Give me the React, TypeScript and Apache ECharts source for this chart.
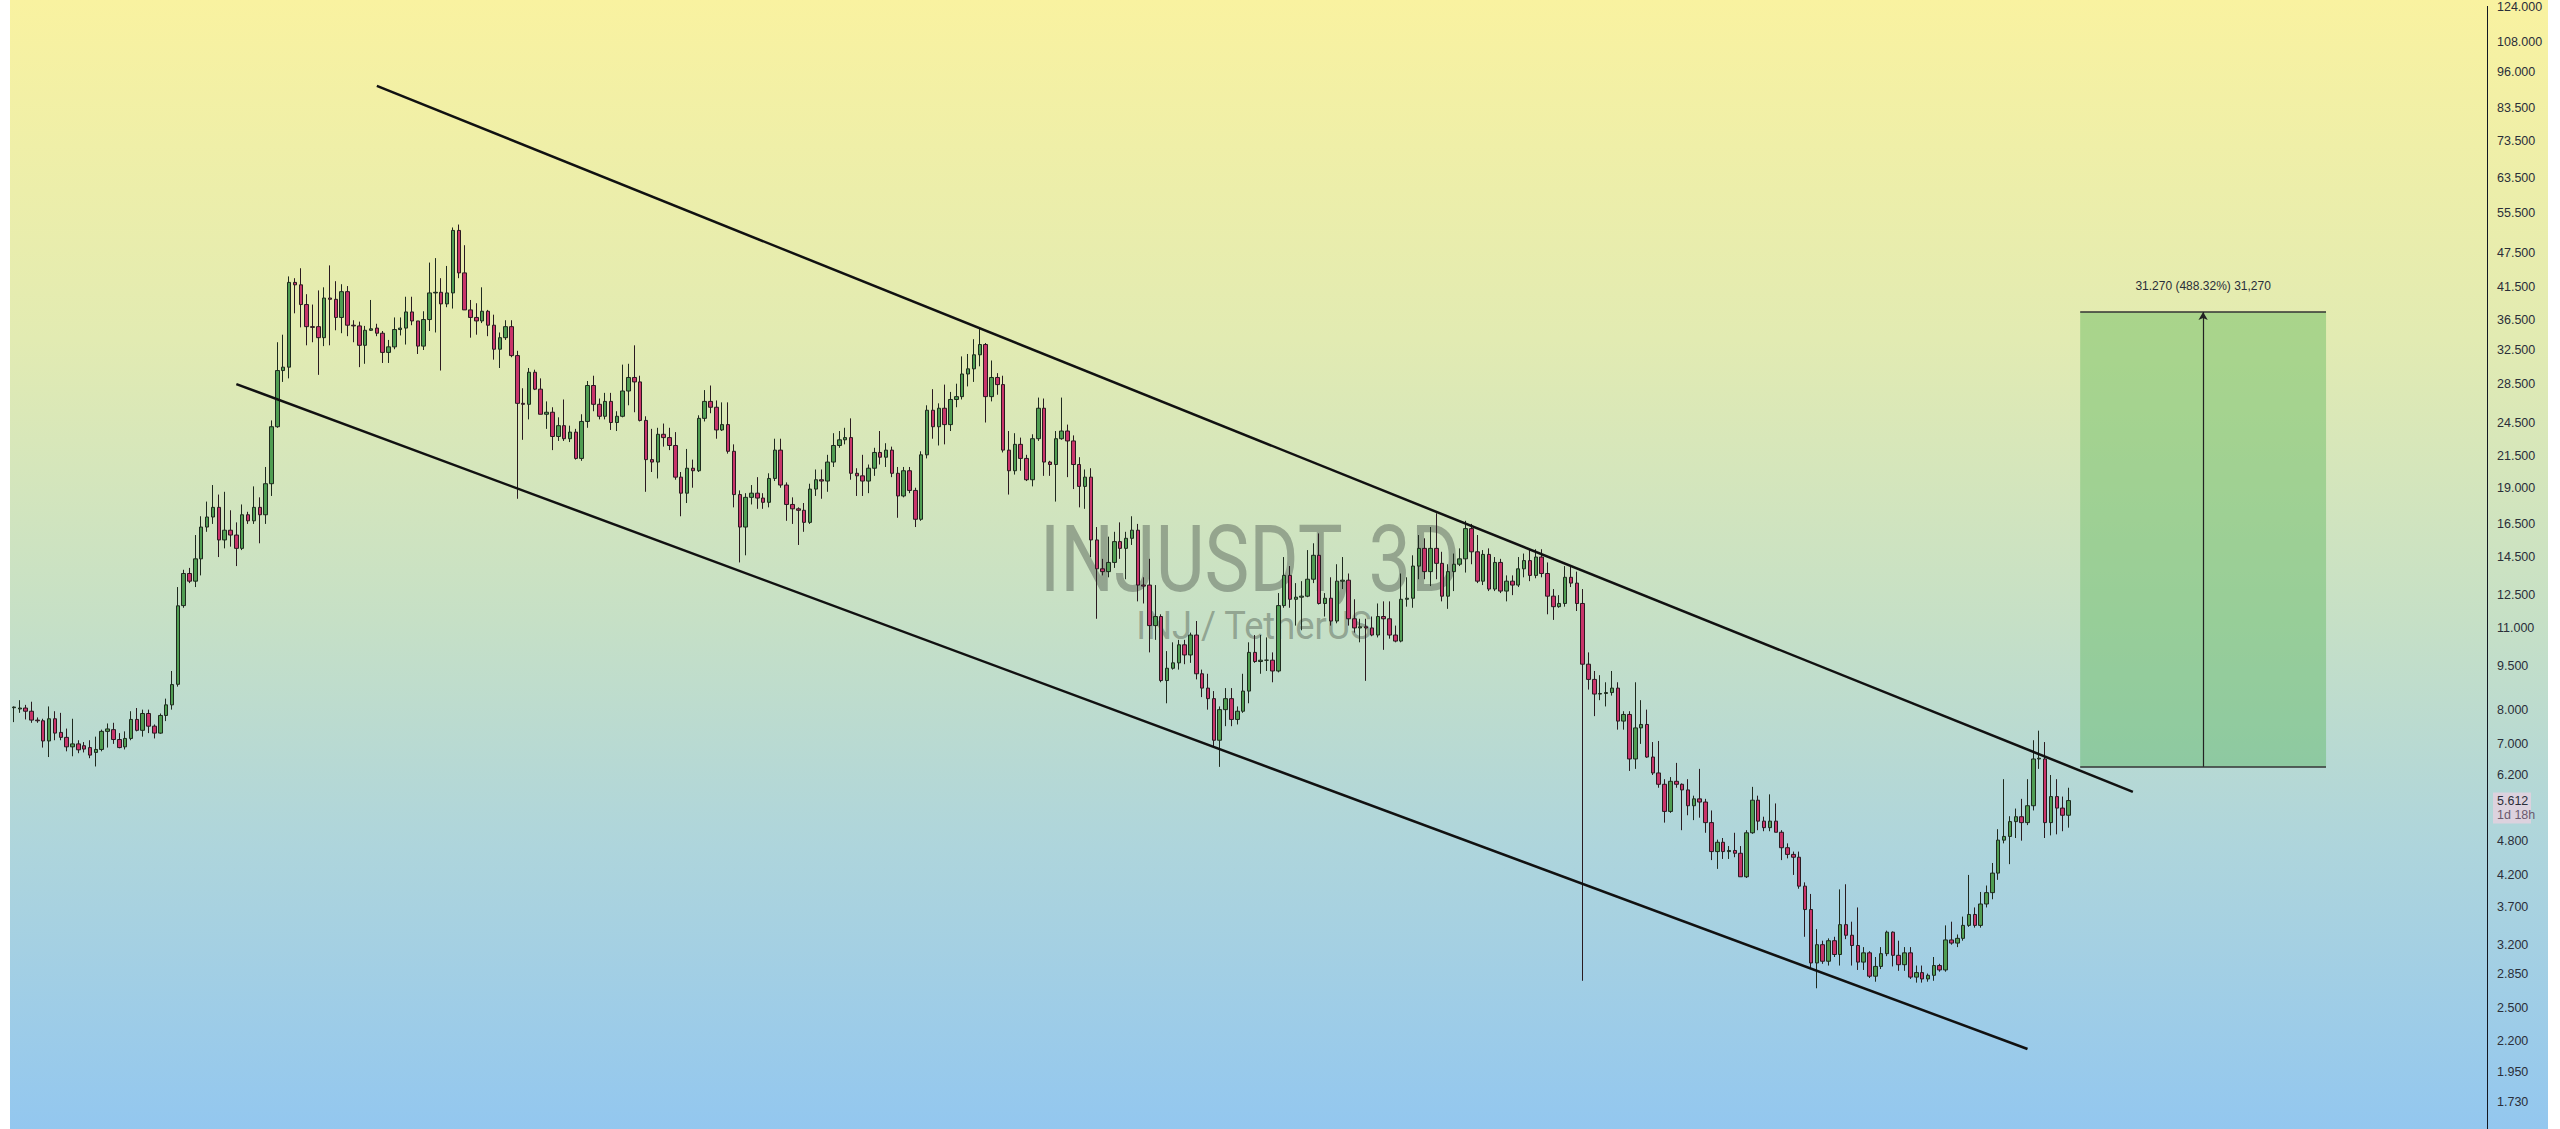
import React, { useEffect, useRef } from "react";
import * as echarts from "echarts";

// Each candle: [open, close, low, high]
const accumulationCandles: number[][] = [
  [8.06, 8.08, 7.62, 8.1], [8.02, 8.05, 7.9, 8.3], [8.05, 7.95, 7.7, 8.15], [7.95, 7.68, 7.6, 8.25],
  [7.68, 7.66, 7.6, 7.76], [7.66, 7.08, 6.9, 7.72], [7.08, 7.72, 6.65, 8.1], [7.72, 7.3, 7.1, 7.95],
  [7.32, 7.18, 7.1, 7.9], [7.18, 6.92, 6.8, 7.43], [6.92, 7.0, 6.67, 7.72], [7.0, 6.84, 6.75, 7.1],
  [6.95, 6.86, 6.77, 7.05], [6.9, 6.7, 6.62, 7.1], [6.77, 6.85, 6.41, 7.2], [6.85, 7.35, 6.8, 7.4],
  [7.35, 7.42, 6.9, 7.58], [7.4, 7.12, 7.0, 7.6], [7.12, 6.9, 6.88, 7.3], [6.92, 7.15, 6.85, 7.35],
  [7.15, 7.7, 7.1, 7.95], [7.7, 7.38, 7.35, 8.05], [7.38, 7.88, 7.2, 8.0], [7.88, 7.5, 7.3, 8.0],
  [7.5, 7.3, 7.15, 7.55], [7.3, 7.82, 7.28, 7.88], [7.82, 8.15, 7.65, 8.35], [8.15, 8.82, 8.0, 9.3],
];

const breakoutCandles: number[][] = [
  [8.83, 11.99, 8.75, 12.9], [12.0, 13.6, 11.9, 13.8], [13.6, 13.2, 13.1, 13.9], [13.2, 14.4, 12.9, 15.8],
  [14.4, 16.3, 13.5, 17.0], [16.3, 16.95, 16.0, 18.0], [16.95, 17.6, 16.5, 19.2], [17.6, 15.5, 14.5, 18.5],
  [15.5, 16.1, 15.0, 18.7], [16.1, 15.8, 15.1, 17.4], [15.8, 15.0, 14.0, 16.6], [15.0, 17.1, 14.9, 17.8],
  [17.1, 16.7, 16.5, 17.3], [16.7, 17.6, 16.5, 19.1], [17.6, 17.1, 15.3, 18.3], [17.1, 19.3, 16.5, 20.6],
  [19.3, 24.1, 18.4, 24.7], [24.1, 30.0, 24.0, 33.5], [30.0, 30.4, 28.7, 34.5], [30.4, 42.3, 29.1, 43.3],
];

const toppingCandles: number[][] = [
  [42.3, 41.9, 37.5, 43.0], [41.9, 38.8, 35.5, 44.7], [38.8, 35.6, 33.1, 40.4], [35.6, 35.5, 33.5, 38.8],
  [35.6, 34.1, 29.5, 41.0], [34.1, 39.8, 33.0, 41.5], [39.8, 39.6, 33.1, 45.2], [39.6, 36.9, 35.1, 42.5],
  [36.9, 40.8, 34.7, 42.0], [40.8, 35.8, 34.3, 41.7], [35.8, 35.7, 33.5, 36.5], [35.7, 33.1, 30.4, 36.3],
  [33.1, 35.1, 30.8, 35.7], [35.1, 35.3, 35.0, 39.5], [35.4, 34.7, 34.3, 36.0], [34.7, 32.2, 30.9, 35.0],
  [32.2, 32.9, 30.9, 33.8], [32.9, 35.2, 32.6, 36.9], [35.2, 35.4, 34.4, 36.9], [35.4, 37.7, 33.2, 40.0],
  [37.7, 36.4, 35.8, 40.0], [36.4, 33.0, 32.0, 36.4], [33.0, 36.6, 32.5, 37.8], [36.6, 40.6, 35.0, 45.7],
  [40.6, 40.7, 34.8, 46.5], [40.7, 38.9, 30.0, 43.0], [38.9, 40.6, 38.4, 45.1], [40.6, 51.8, 38.2, 52.4],
  [51.8, 43.9, 43.0, 53.0], [43.9, 38.0, 38.0, 48.9], [38.0, 36.9, 34.1, 39.5], [36.9, 36.4, 34.5, 39.0],
  [36.4, 37.8, 36.1, 41.5], [37.8, 35.8, 34.3, 38.0], [35.8, 32.6, 31.3, 37.3], [32.6, 34.1, 30.3, 34.8],
  [34.1, 35.6, 33.8, 36.5], [35.6, 31.8, 31.6, 36.5], [31.8, 26.4, 18.2, 32.4],
];

const firstDeclineCandles: number[][] = [
  [26.4, 26.3, 22.9, 28.0], [26.3, 29.8, 24.8, 30.3], [29.8, 27.9, 27.8, 30.1], [27.9, 25.3, 25.3, 29.1],
  [25.3, 25.5, 23.9, 26.6], [25.5, 23.2, 22.0, 26.0], [23.2, 24.2, 22.8, 25.0], [24.2, 23.0, 22.8, 26.8],
  [23.0, 23.6, 22.7, 24.2], [23.6, 21.3, 21.2, 23.9], [21.3, 24.6, 21.1, 25.3], [24.6, 28.3, 24.0, 28.8],
  [28.3, 26.3, 25.6, 29.4], [26.3, 25.1, 24.8, 26.9], [25.1, 26.6, 24.8, 27.5], [26.6, 24.5, 23.8, 27.5],
  [24.5, 25.1, 23.7, 25.6], [25.1, 27.7, 25.0, 30.7], [27.7, 29.2, 26.2, 30.8], [29.2, 28.7, 25.5, 33.1],
  [28.7, 24.7, 24.6, 29.4], [24.7, 21.2, 18.7, 25.1], [21.2, 21.0, 20.2, 23.9], [21.0, 23.4, 19.7, 24.0],
  [23.4, 23.1, 22.3, 24.4], [23.1, 22.4, 22.0, 24.0], [22.4, 19.8, 19.6, 23.6], [19.8, 18.6, 17.0, 20.2],
  [18.6, 20.5, 17.9, 22.1], [20.5, 20.3, 19.0, 21.2], [20.3, 24.9, 20.2, 25.2], [24.9, 26.6, 24.6, 27.8],
  [26.6, 26.0, 25.4, 28.3], [26.0, 23.8, 23.0, 26.7], [23.8, 24.3, 23.7, 26.5], [24.3, 21.9, 21.7, 26.5],
  [21.9, 18.5, 17.6, 22.5], [18.5, 16.3, 14.2, 18.8], [16.3, 18.3, 14.6, 18.6],
  [18.3, 18.6, 17.8, 19.2], [18.6, 18.25, 17.5, 19.8], [18.25, 17.95, 17.5, 18.6], [17.95, 19.7, 17.6, 20.1],
  [19.7, 22.0, 19.5, 23.0], [22.0, 19.2, 19.0, 23.0], [19.2, 17.8, 16.7, 19.4], [17.8, 17.5, 16.5, 18.3],
  [17.5, 17.4, 15.2, 17.6], [17.4, 16.6, 16.0, 17.9], [16.6, 18.9, 16.5, 19.3], [18.9, 19.6, 18.4, 20.4],
  [19.6, 19.5, 18.2, 20.4], [19.5, 21.0, 18.7, 21.6], [21.0, 22.4, 20.6, 23.5], [22.4, 22.9, 22.2, 23.7],
  [22.9, 23.1, 22.5, 24.0], [23.1, 20.1, 19.6, 24.9], [20.1, 19.9, 18.4, 20.5], [19.9, 19.5, 18.4, 21.6],
  [19.5, 20.5, 18.6, 20.8], [20.5, 21.8, 19.9, 22.2], [21.8, 21.4, 20.8, 23.7], [21.4, 22.0, 20.6, 22.6],
  [22.0, 20.1, 19.8, 22.3], [20.1, 18.4, 16.9, 20.6], [18.4, 20.3, 18.3, 20.6], [20.3, 18.8, 18.6, 20.6],
  [18.8, 16.8, 16.3, 19.0], [16.8, 21.6, 16.7, 21.9], [21.6, 25.7, 21.3, 26.2], [25.7, 24.1, 23.0, 27.9],
  [24.1, 25.9, 22.4, 26.4], [25.9, 24.3, 22.5, 28.4], [24.3, 26.8, 23.7, 27.6], [26.8, 27.1, 26.0, 28.5],
  [27.1, 29.6, 26.8, 31.7], [29.6, 30.2, 28.2, 32.0], [30.2, 31.9, 28.7, 33.9], [31.9, 33.2, 30.5, 35.3],
  [33.2, 27.1, 24.5, 33.4], [27.1, 29.2, 26.6, 31.2], [29.2, 28.4, 27.3, 29.7], [28.4, 22.0, 21.8, 29.4],
  [22.0, 20.3, 18.5, 23.7], [20.3, 22.5, 20.0, 23.5], [22.5, 21.3, 20.3, 23.1], [21.3, 19.6, 19.5, 21.6],
  [19.6, 23.0, 19.1, 23.4], [23.0, 25.9, 22.8, 27.0], [25.9, 21.0, 19.9, 26.9], [21.0, 20.8, 19.9, 21.1],
  [20.8, 23.0, 18.0, 23.7], [23.0, 23.7, 22.9, 27.0], [23.7, 22.8, 19.8, 24.3], [22.8, 20.8, 18.9, 23.3],
  [20.8, 19.1, 17.6, 21.4], [19.1, 19.8, 17.5, 20.4], [19.8, 15.5, 14.5, 20.5], [15.5, 13.85, 11.4, 16.3],
  [13.85, 13.7, 13.5, 14.4], [13.7, 14.2, 13.4, 15.7],
];

const secondDeclineCandles: number[][] = [
  [14.2, 15.4, 13.9, 16.0], [15.4, 15.0, 14.4, 16.6], [15.0, 15.6, 13.3, 16.0], [15.6, 16.1, 15.2, 17.0],
  [16.1, 13.0, 12.2, 16.5], [13.0, 12.95, 12.1, 13.4], [13.0, 11.1, 10.0, 14.4], [11.1, 11.5, 10.5, 13.0],
  [11.5, 8.96, 8.9, 11.6], [8.96, 9.4, 8.2, 10.05], [9.4, 9.6, 9.35, 10.4], [9.6, 10.3, 9.35, 10.5],
  [10.3, 9.9, 9.55, 10.5], [9.9, 10.7, 9.6, 10.8], [10.7, 9.2, 9.0, 11.3], [9.2, 8.7, 8.4, 9.35],
  [8.7, 8.35, 8.0, 9.2], [8.35, 7.1, 6.9, 8.6], [7.1, 8.0, 6.4, 8.1], [8.0, 8.35, 7.5, 8.7],
  [8.35, 7.7, 7.5, 8.7], [7.7, 7.95, 7.55, 8.1], [7.95, 8.6, 7.9, 9.2], [8.6, 10.0, 8.2, 10.4],
  [10.0, 9.65, 9.6, 10.7], [9.65, 9.7, 9.2, 10.7], [9.7, 9.7, 9.3, 10.6], [9.7, 9.3, 8.9, 10.0],
  [9.3, 12.0, 9.25, 12.6], [12.0, 13.5, 11.9, 14.5], [13.5, 12.3, 11.9, 14.0], [12.3, 12.4, 11.1, 13.1],
  [12.4, 12.45, 10.9, 13.2], [12.45, 13.3, 12.4, 14.9], [13.3, 14.6, 13.1, 15.3], [14.6, 12.1, 12.05, 15.9],
  [12.1, 12.35, 11.5, 12.6], [12.35, 11.3, 11.1, 13.4], [11.3, 13.2, 11.2, 14.1], [13.2, 13.25, 12.8, 14.5],
  [13.25, 11.4, 11.1, 13.6], [11.4, 11.0, 10.8, 12.3], [11.0, 11.05, 10.4, 11.4], [11.05, 11.0, 8.95, 11.4],
  [11.0, 10.7, 10.65, 11.5], [10.7, 11.5, 10.6, 12.1], [11.5, 11.4, 10.1, 12.2], [11.4, 10.7, 10.55, 12.2],
  [10.7, 10.45, 10.4, 11.1], [10.45, 12.3, 10.4, 13.6], [12.3, 12.35, 11.95, 13.4], [12.35, 14.0, 11.9, 14.6],
  [14.0, 15.0, 13.3, 15.8], [15.0, 13.7, 13.3, 15.6], [13.7, 15.0, 12.95, 16.3], [15.0, 14.15, 13.3, 17.2],
  [14.15, 12.45, 12.2, 14.8], [12.45, 13.7, 11.85, 14.1], [13.7, 14.1, 12.7, 14.7], [14.1, 14.4, 14.0, 15.0],
  [14.4, 16.2, 13.65, 16.7], [16.2, 14.8, 14.1, 16.5], [14.8, 13.2, 13.1, 15.8],
  [13.2, 14.65, 13.0, 14.9], [14.65, 12.8, 12.7, 15.0], [12.8, 14.2, 12.7, 14.5], [14.2, 12.7, 12.6, 14.4],
  [12.7, 13.2, 12.2, 13.5], [13.2, 13.0, 12.5, 13.5], [13.0, 13.85, 12.9, 14.5], [13.85, 14.3, 13.4, 14.7],
  [14.3, 13.5, 13.2, 14.9], [13.5, 14.5, 13.35, 14.95], [14.5, 13.6, 13.4, 14.95], [13.6, 12.45, 11.6, 14.2],
  [12.45, 11.95, 11.35, 12.8], [11.95, 12.1, 11.9, 12.5], [12.1, 13.4, 11.95, 14.0], [13.4, 13.1, 12.9, 14.0],
  [13.1, 12.1, 11.75, 13.7],
];

const capitulationCandles: number[][] = [
  [12.1, 9.55, 2.78, 12.8], [9.55, 9.0, 8.65, 10.0], [9.0, 8.5, 7.8, 9.3], [8.5, 8.52, 8.3, 9.15],
  [8.52, 8.55, 8.1, 8.9], [8.55, 8.7, 8.45, 9.3], [8.7, 7.65, 7.4, 8.9], [7.65, 7.85, 7.4, 7.95],
  [7.85, 6.6, 6.3, 7.95], [6.6, 7.45, 6.35, 8.9], [7.45, 7.55, 7.0, 8.3], [7.55, 6.65, 6.63, 8.0],
  [6.65, 6.25, 6.2, 7.05], [6.25, 5.98, 5.9, 7.08], [5.98, 5.38, 5.15, 6.1], [5.38, 6.05, 5.35, 6.15],
  [6.05, 5.98, 5.9, 6.5], [5.98, 5.85, 5.0, 6.0], [5.85, 5.5, 5.3, 6.1], [5.5, 5.65, 5.2, 5.72],
  [5.65, 5.58, 5.25, 6.35], [5.58, 5.15, 4.95, 5.65], [5.15, 4.6, 4.45, 5.4], [4.6, 4.77, 4.3, 4.82],
  [4.77, 4.6, 4.47, 4.85], [4.6, 4.62, 4.47, 4.7], [4.62, 4.57, 4.5, 4.95], [4.57, 4.17, 4.17, 4.7],
  [4.17, 4.95, 4.15, 5.0], [4.95, 5.62, 4.93, 5.92], [5.62, 5.18, 5.0, 5.72], [5.18, 5.05, 4.98, 5.27],
  [5.05, 5.18, 4.98, 5.75], [5.18, 4.96, 4.96, 5.55], [4.96, 4.67, 4.45, 5.0], [4.67, 4.55, 4.48, 4.75],
  [4.55, 4.5, 4.2, 4.6], [4.5, 4.02, 3.98, 4.6], [4.02, 3.67, 3.3, 4.08], [3.67, 2.98, 2.92, 3.9],
  [2.98, 3.2, 2.7, 3.4], [3.2, 3.0, 2.97, 3.25],
];

const reboundCandles: number[][] = [
  [3.0, 3.25, 2.95, 3.28], [3.25, 3.08, 3.05, 3.3], [3.08, 3.46, 2.95, 3.97], [3.46, 3.32, 3.27, 4.05],
  [3.32, 3.19, 2.95, 3.5], [3.19, 2.99, 2.9, 3.7], [2.99, 3.1, 2.9, 3.17], [3.1, 2.83, 2.81, 3.12],
  [2.83, 2.94, 2.77, 3.05], [2.94, 3.09, 2.91, 3.17], [3.09, 3.36, 3.06, 3.38], [3.36, 3.07, 2.94, 3.37],
  [3.07, 2.96, 2.89, 3.25], [2.96, 3.1, 2.89, 3.17], [3.1, 2.82, 2.8, 3.17], [2.82, 2.87, 2.76, 2.95],
  [2.87, 2.8, 2.76, 2.95], [2.8, 2.84, 2.77, 2.86], [2.84, 2.95, 2.78, 3.05], [2.95, 2.9, 2.88, 2.97],
  [2.9, 3.26, 2.88, 3.45], [3.26, 3.22, 3.2, 3.5], [3.22, 3.28, 3.17, 3.33], [3.28, 3.45, 3.25, 3.57],
  [3.45, 3.6, 3.43, 4.2], [3.6, 3.45, 3.42, 3.7], [3.45, 3.75, 3.42, 3.93], [3.75, 3.92, 3.7, 4.03],
  [3.92, 4.23, 3.82, 4.4], [4.23, 4.81, 4.12, 5.02], [4.81, 4.88, 4.75, 6.1], [4.88, 5.17, 4.38, 5.28],
  [5.17, 5.27, 4.85, 5.44], [5.27, 5.15, 4.8, 5.65], [5.15, 5.5, 5.1, 6.1], [5.5, 6.6, 5.4, 7.1],
  [6.6, 6.62, 6.35, 7.37], [6.6, 5.15, 4.85, 7.05], [5.15, 5.7, 4.9, 6.2], [5.7, 5.45, 4.92, 6.1],
  [5.45, 5.3, 4.98, 5.7], [5.3, 5.612, 5.05, 5.9],
];

const priceTicks = [
  124, 108, 96, 83.5, 73.5, 63.5, 55.5, 47.5, 41.5, 36.5, 32.5, 28.5, 24.5, 21.5, 19, 16.5, 14.5,
  12.5, 11, 9.5, 8, 7, 6.2, 4.8, 4.2, 3.7, 3.2, 2.85, 2.5, 2.2, 1.95, 1.73,
];

const lastPrice = 5.612;
const countdown = "1d 18h";
// [bar index, price]
const upperChannel = [[62, 91.0], [362, 5.805]];
const lowerChannel = [[38, 28.45], [344, 2.131]];
const rangeBars = [353, 395];
const rangeLow = 6.404;
const rangeHigh = 37.674;
const rangeText = "31.270 (488.32%) 31,270";
const symbolTitle = "INJUSDT, 3D";
const symbolSubtitle = "INJ / TetherUS";
const slotCount = 423;
const axisMaxPrice = 124.05;
const axisMinPrice = 1.56;

export default function App() {
  const ref = useRef<HTMLDivElement>(null);

  useEffect(() => {
    document.body.style.margin = "0";
    const el = ref.current!;
    const chart = echarts.init(el, undefined, { renderer: "svg" });
    const ln = Math.log;
    const candles = [
      ...accumulationCandles,
      ...breakoutCandles,
      ...toppingCandles,
      ...firstDeclineCandles,
      ...secondDeclineCandles,
      ...capitulationCandles,
      ...reboundCandles,
    ].map((c) => c.map(ln));
    const categories = Array.from({ length: slotCount }, (_, i) => String(i));
    const midBar = (rangeBars[0] + rangeBars[1]) / 2;

    chart.setOption({
      animation: false,
      backgroundColor: "transparent",
      grid: { left: 11, right: 73, top: 0, bottom: 0 },
      xAxis: {
        type: "category",
        data: categories,
        show: false,
        boundaryGap: true,
      },
      yAxis: {
        type: "value",
        position: "right",
        min: ln(axisMinPrice),
        max: ln(axisMaxPrice),
        axisLine: { show: true, lineStyle: { color: "#131722", width: 1 } },
        axisTick: { show: false },
        splitLine: { show: false },
        axisLabel: {
          customValues: priceTicks.map(ln),
          formatter: (v: number) => Math.exp(v).toFixed(3),
          color: "#2a2e39",
          fontSize: 12.5,
          fontFamily: "Liberation Sans",
          margin: 10,
        },
      },
      series: [
        {
          type: "candlestick",
          data: candles,
          barWidth: "68%",
          itemStyle: {
            color: "#4f9d52",
            color0: "#c8346a",
            borderColor: "#1e2a1e",
            borderColor0: "#2a1a20",
            borderWidth: 1,
          },
          markArea: {
            silent: true,
            itemStyle: { color: "rgba(76,175,80,0.38)" },
            label: {
              show: true,
              position: "top",
              formatter: rangeText,
              color: "#2a2e39",
              fontSize: 12,
              fontFamily: "Liberation Sans",
              distance: 20,
            },
            data: [
              [
                { coord: [rangeBars[0], ln(rangeHigh)] },
                { coord: [rangeBars[1], ln(rangeLow)] },
              ],
            ],
          },
          markLine: {
            silent: true,
            symbol: ["none", "none"],
            label: { show: false },
            lineStyle: { color: "#111", width: 2.5, type: "solid" },
            data: [
              [
                { coord: [upperChannel[0][0], ln(upperChannel[0][1])] },
                { coord: [upperChannel[1][0], ln(upperChannel[1][1])] },
              ],
              [
                { coord: [lowerChannel[0][0], ln(lowerChannel[0][1])] },
                { coord: [lowerChannel[1][0], ln(lowerChannel[1][1])] },
              ],
              [
                { coord: [rangeBars[0], ln(rangeHigh)], lineStyle: { color: "#333", width: 1.5, type: "solid" } },
                { coord: [rangeBars[1], ln(rangeHigh)] },
              ],
              [
                { coord: [rangeBars[0], ln(rangeLow)], lineStyle: { color: "#333", width: 1.5, type: "solid" } },
                { coord: [rangeBars[1], ln(rangeLow)] },
              ],
              [
                { coord: [midBar, ln(rangeLow)], symbol: "none", lineStyle: { color: "#222", width: 1.2, type: "solid" } },
                { coord: [midBar, ln(rangeHigh)], symbol: "arrow", symbolSize: [7, 8] },
              ],
            ],
          },
        },
      ],
    });

    const py = chart.convertToPixel({ yAxisIndex: 0 }, ln(lastPrice)) as number;

    chart.setOption({
      graphic: [
        {
          type: "text",
          x: 1250,
          y: 560,
          scaleX: 0.82,
          z: 0,
          silent: true,
          style: {
            text: symbolTitle,
            fontSize: 92,
            fontFamily: "Roboto",
            fill: "rgba(95,108,95,0.52)",
            align: "center",
            verticalAlign: "middle",
          },
        },
        {
          type: "text",
          x: 1254,
          y: 626,
          scaleX: 0.93,
          z: 0,
          silent: true,
          style: {
            text: symbolSubtitle,
            fontSize: 39,
            fontFamily: "Roboto",
            fill: "rgba(95,108,95,0.52)",
            align: "center",
            verticalAlign: "middle",
          },
        },
        {
          type: "rect",
          shape: { x: 2493, y: py - 8, width: 38, height: 31 },
          style: { fill: "#dcd2de" },
          z: 10,
        },
        {
          type: "text",
          x: 2497,
          y: py,
          z: 11,
          style: { text: String(lastPrice), fontSize: 12.5, fontFamily: "Liberation Sans", fill: "#2a2e39", align: "left", verticalAlign: "middle" },
        },
        {
          type: "text",
          x: 2497,
          y: py + 14,
          z: 11,
          style: { text: countdown, fontSize: 12.5, fontFamily: "Liberation Sans", fill: "#6a5a6e", align: "left", verticalAlign: "middle" },
        },
      ],
    });

    return () => chart.dispose();
  }, []);

  return (
    <div style={{ position: "relative", width: 2560, height: 1129, background: "#ffffff", overflow: "hidden" }}>
      <div
        style={{
          position: "absolute",
          left: 10,
          top: 0,
          width: 2538,
          height: 1129,
          background: "linear-gradient(180deg, #f9f2a0 0%, #e2ebb2 30%, #c6e0c6 55%, #aed5dc 75%, #93c7ef 100%)",
        }}
      />
      <div ref={ref} style={{ position: "absolute", left: 0, top: 0, width: 2560, height: 1129 }} />
    </div>
  );
}
